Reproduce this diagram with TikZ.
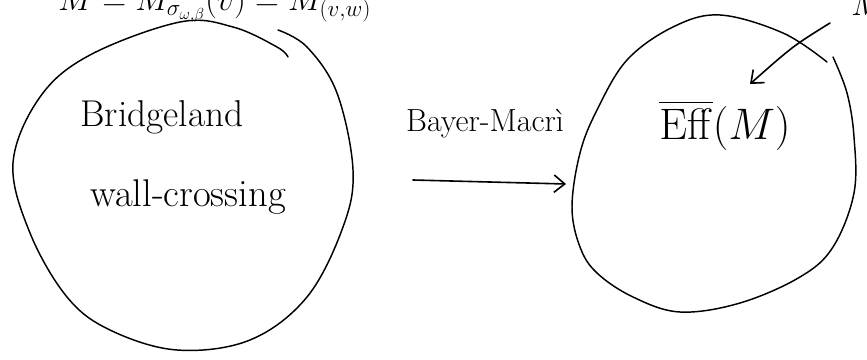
\documentclass[tikz,border=0pt]{standalone}
\usepackage{amsmath}
\usepackage{graphicx}
\usetikzlibrary{arrows.meta}
\tikzset{
	blob/.style={line width=1.1pt},
	hand/.style={inner sep=0pt,font=\fontsize{28}{32}\selectfont},
	pointer/.style={line width=1.2pt,-{Straight Barb[length=8pt,width=13pt]}},
}
\begin{document}
\begin{tikzpicture}[x=.75pt,y=-.75pt,line join=round,line cap=round]
	\useasboundingbox (0,0) rectangle (867,360);
	\clip (0,0) rectangle (867,360);
	% top line, cut off by the page
	\node[hand,font=\fontsize{24}{28}\selectfont,anchor=base west] (moduli) at (58,11) {$M = M_{\sigma_{\omega,\beta}}(v) = M_{(v,w)}$};
	\node[hand,font=\fontsize{24}{28}\selectfont,anchor=base west] (corner) at (851,16) {$M$};
	% left blob
	\draw[blob] plot[smooth,tension=.6] coordinates {(278,30) (307,47) (337,93) (353,170) (343,227) (307,297) (250,340) (177,350) (110,330) (67,297) (30,233) (13,163) (40,97) (90,55) (180,22) (233,27) (277,47) (288,57)};
	\node[hand] (bridgeland) at (162,117) {Bridgeland};
	\node[hand,font=\fontsize{29}{33}\selectfont] (wallcross) at (188,197) {wall-crossing};
	% right blob
	\draw[blob] plot[smooth,tension=.6] coordinates {(833,57) (847,93) (854,137) (854,193) (833,247) (800,277) (740,303) (680,312) (633,297) (597,273) (580,247) (572,207) (580,153) (597,110) (627,60) (673,27) (720,15) (783,33) (827,62)};
	\node[hand,font=\fontsize{24}{28}\selectfont] (eff) at (725,125) {\scalebox{1.33}{$\overline{\mathrm{Eff}}(M)$}};
	% Bayer-Macri arrow
	\node[hand,font=\fontsize{24}{28}\selectfont] (bayermacri) at (485,124) {Bayer-Macrì};
	\coordinate (bm-from) at (413,180);
	\coordinate (bm-to) at (566,184);
	\draw[pointer] (bm-from) -- (bm-to);
	\coordinate (ptr-from) at (830,23);
	\coordinate (ptr-to) at (750,84);
	\draw[pointer] (ptr-from) .. controls (793,46) .. (ptr-to);
\end{tikzpicture}
\end{document}
